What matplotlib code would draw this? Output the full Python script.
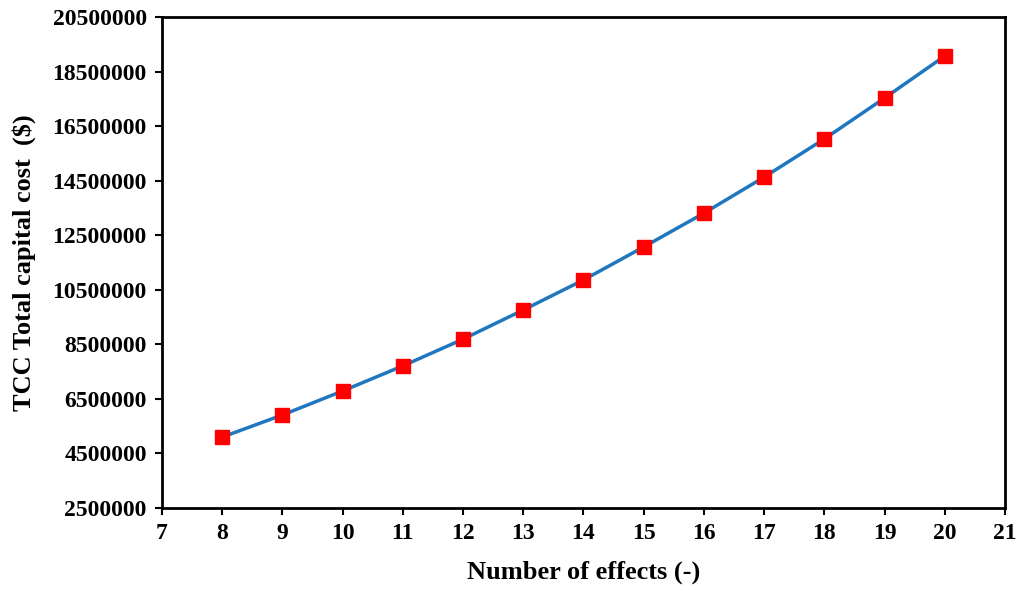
import matplotlib.pyplot as plt

effects = [8, 9, 10, 11, 12, 13, 14, 15, 16, 17, 18, 19, 20]
tcc = [5100000, 5910000, 6790000, 7710000, 8690000, 9760000, 10860000,
       12070000, 13310000, 14630000, 16030000, 17530000, 19070000]

plt.rcParams['font.family'] = ['Liberation Serif', 'DejaVu Serif']
plt.rcParams['font.weight'] = 'bold'

fig = plt.figure(figsize=(10.23, 5.92), dpi=100)
ax = fig.add_axes([162 / 1023, 1 - 508 / 592, (1005 - 162) / 1023, (508 - 17) / 592])
ax.plot(effects, tcc, color='#1f77c0', lw=2.5, marker='s', ms=10,
        mfc='#ff0000', mec='#ff0000')
ax.set_xlim(7, 21)
ax.set_ylim(2500000, 20500000)
ax.set_xticks(range(7, 22))
ax.set_yticks(range(2500000, 20500001, 2000000))
ax.set_yticklabels([str(v) for v in range(2500000, 20500001, 2000000)])
ax.tick_params(labelsize=17, width=1.5, length=5, direction='out', pad=6)
for lbl in ax.get_xticklabels() + ax.get_yticklabels():
    lbl.set_fontweight('bold')
for s in ax.spines.values():
    s.set_linewidth(2)
ax.set_xlabel('Number of effects (-)', fontsize=19, fontweight='bold', labelpad=12)
ax.set_ylabel('TCC Total capital cost  ($)', fontsize=19, fontweight='bold', labelpad=12)
fig.savefig('out.png')
